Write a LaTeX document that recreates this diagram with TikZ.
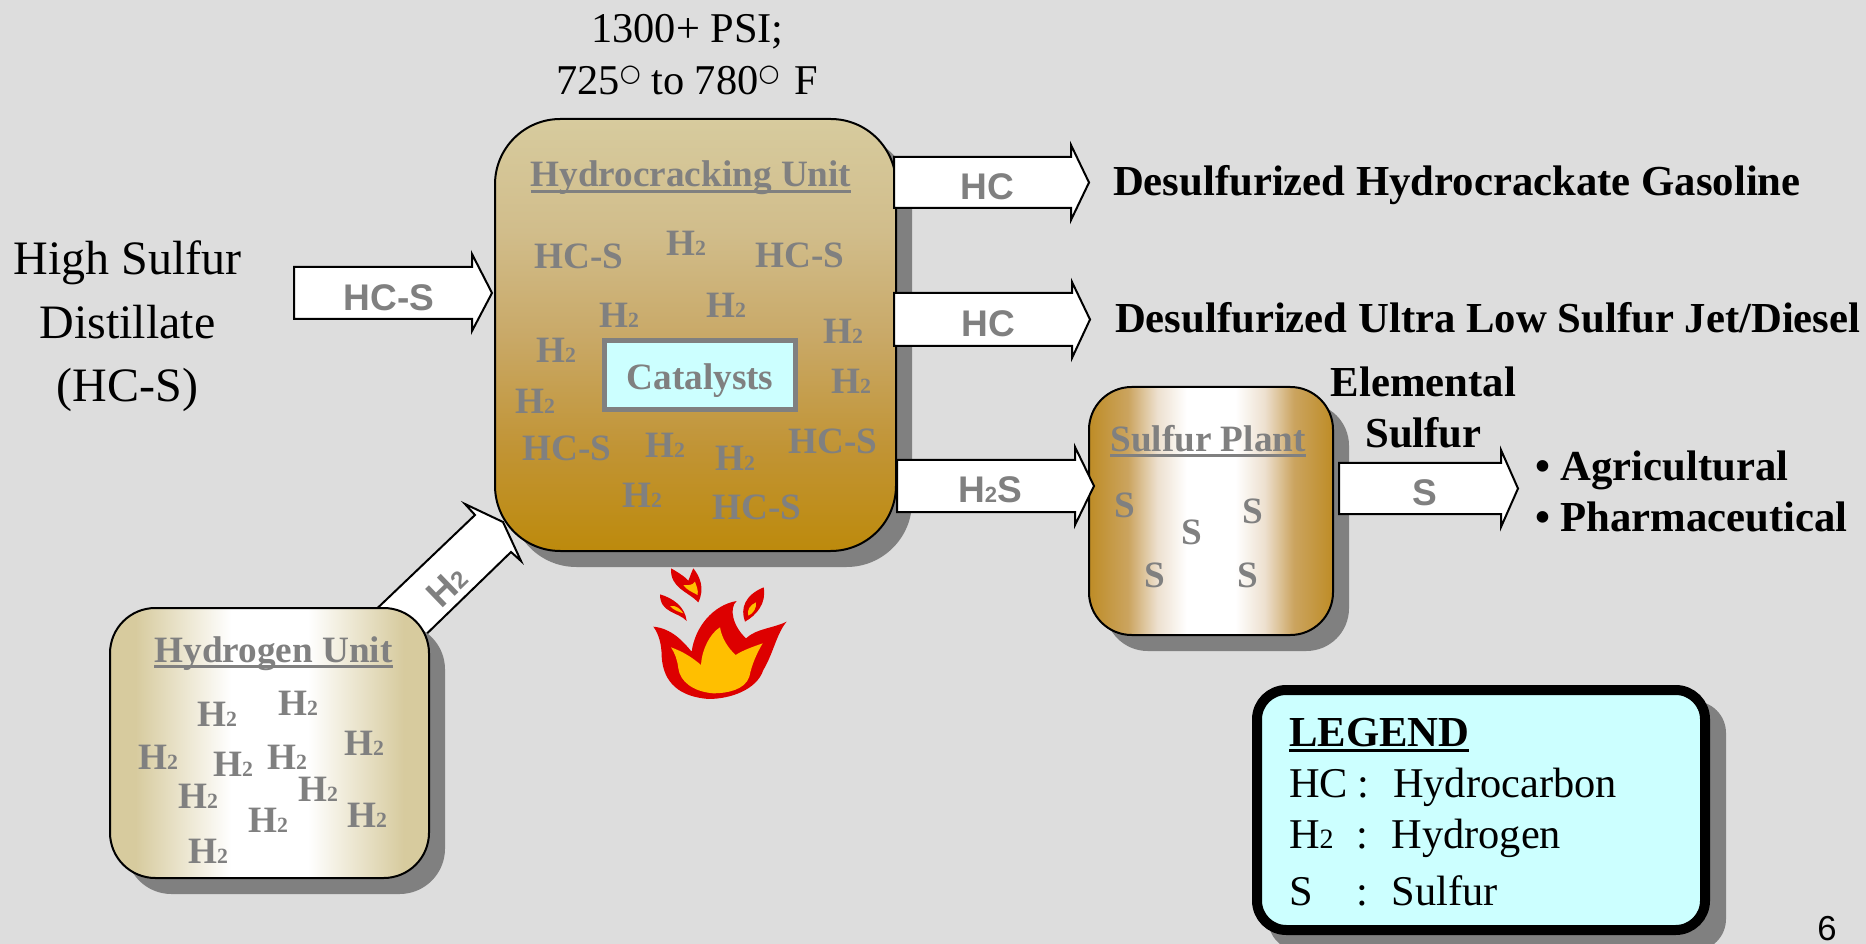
\documentclass[tikz,border=0pt]{standalone}
\usepackage{fontspec}
\setmainfont{Liberation Serif}
\setsansfont{Liberation Sans}
\newfontfamily\circfont{DejaVu Sans}
\definecolor{bgc}{HTML}{DDDDDD}
\definecolor{shc}{HTML}{808080}
\definecolor{tanc}{HTML}{D7CB9E}
\definecolor{tanm}{HTML}{D1BD8B}
\definecolor{tann}{HTML}{C9A968}
\definecolor{tano}{HTML}{C19435}
\definecolor{ochre}{HTML}{BD8A0C}
\definecolor{ochreb}{HTML}{BE8C26}
\definecolor{ochrec}{HTML}{CBA45F}
\definecolor{ochred}{HTML}{EDE0CF}
\definecolor{icec}{HTML}{CCFFFF}
\definecolor{flred}{HTML}{DD0000}
\definecolor{flyel}{HTML}{FFBF00}
\pgfdeclareverticalshading{mainfill}{100bp}{color(0bp)=(ochre); color(25bp)=(ochre); color(37bp)=(tano); color(50bp)=(tann); color(62bp)=(tanm); color(75bp)=(tanc); color(100bp)=(tanc)}
\pgfdeclarehorizontalshading{hydrofill}{100bp}{color(0bp)=(tanc); color(29bp)=(tanc); color(44bp)=(white); color(56bp)=(white); color(71bp)=(tanc); color(100bp)=(tanc)}
\pgfdeclarehorizontalshading{sulfill}{100bp}{color(0bp)=(ochreb); color(25bp)=(ochreb); color(33bp)=(ochrec); color(39bp)=(ochred); color(45bp)=(white); color(55bp)=(white); color(61bp)=(ochred); color(67bp)=(ochrec); color(75bp)=(ochreb); color(100bp)=(ochreb)}
\newcommand{\ulbox}[1]{\setbox0=\hbox{#1}\leavevmode\rlap{\vrule width\wd0 height -2.3pt depth 4.8pt}\box0}
\newcommand{\Htwo}{H{\fontsize{16.3}{17}\selectfont 2}}
\newcommand{\degc}{\raisebox{10pt}{\circfont\fontsize{18}{18}\selectfont ○}}
\tikzset{
  x=0.75pt,y=-0.75pt,
  base/.style={inner sep=0pt,outer sep=0pt,anchor=base},
  graylabel/.style={base,text=shc,font=\fontsize{27.9}{30}\selectfont\bfseries},
  arrowlabel/.style={base,text=shc,font=\fontsize{27.8}{30}\selectfont\sffamily\bfseries},
  blacklabel/.style={base,font=\fontsize{32.05}{36}\selectfont\bfseries},
  plainlabel/.style={base,font=\fontsize{31.8}{36}\selectfont},
  shadowbox/.style={fill=shc,draw=none,inner sep=0pt,outer sep=0pt},
  unitbox/.style={draw=black,line width=1.5pt,inner sep=0pt,outer sep=0pt},
  blockarrow/.style={draw=black,fill=white,line width=1.5pt,line join=miter},
}
\newcommand{\harrow}[7]{% x0,xhead,xtip,ytop,ybot,yheadtop,yheadbot
  \path[blockarrow] (#1,#4) -- (#2,#4) -- (#2,#6) -- (#3,{(#4+#5)/2}) -- (#2,#7) -- (#2,#5) -- (#1,#5) -- cycle;}
\begin{document}
\begin{tikzpicture}
\useasboundingbox (0,0) rectangle (1866,944);
\clip (0,0) rectangle (1866,944);
\fill[bgc] (0,0) rectangle (1866,944);

% Hydrocracking unit
\node[shadowbox,rounded corners=49pt,minimum width=300.75pt,minimum height=324pt] (mainsh) at (711.5,351) {};
\node[unitbox,rounded corners=49pt,minimum width=300.75pt,minimum height=324pt,shading=mainfill] (mainbox) at (695.5,335) {};
\node[graylabel] (maintitle) at (691,187) {\ulbox{Hydrocracking Unit}};
\foreach \px/\py [count=\i] in {579/269,800/268,567/460,833/454,757/519}
  \node[graylabel] (hcs\i) at (\px,\py) {HC-S};
\foreach \px/\py [count=\i] in {686/256,619/328,726/318,843/344,556/363,851/394,535/414,665/458,735/470,642/508}
  \node[graylabel] (ma\i) at (\px,\py) {\Htwo};
\node[draw=shc,fill=icec,line width=3.75pt,inner sep=0pt,outer sep=0pt,minimum width=143pt,minimum height=52pt] (catbox) at (700,375) {};
\node[graylabel] (cattext) at (700,390) {Catalysts};

% Sulfur plant
\node[shadowbox,rounded corners=32pt,minimum width=183pt,minimum height=186pt] (sulsh) at (1227,527) {};
\node[unitbox,rounded corners=32pt,minimum width=183pt,minimum height=186pt,shading=sulfill] (sulbox) at (1211,511) {};
\node[graylabel] (sultitle) at (1208,451) {\ulbox{Sulfur Plant}};
\foreach \px/\py [count=\i] in {1124.5/517,1191.5/544,1252.5/523,1154.5/587,1247.5/587}
  \node[graylabel] (sul\i) at (\px,\py) {S};

% Arrows
\harrow{294}{472}{492}{267}{319}{254}{331}
\harrow{894}{1071}{1089}{157}{208}{145}{220}
\harrow{894}{1072}{1090}{293}{346}{282}{358}
\harrow{897}{1075}{1094}{460}{512}{447}{525}
\harrow{1339}{1501}{1518}{463}{514}{450}{527}
\path[blockarrow] (365,620) -- (475,515) -- (465,504) -- (503,522) -- (521,561) -- (511,552) -- (410,650) -- cycle;

\node[arrowlabel] (arhcs) at (389,311) {HC-S};
\node[arrowlabel] (arhc1) at (987,200) {HC};
\node[arrowlabel] (arhc2) at (988,337) {HC};
\node[arrowlabel] (arh2s) at (990,503) {H{\fontsize{16.5}{17}\selectfont 2}S};
\node[arrowlabel] (ars) at (1425,505) {S};
\node[text=shc,font=\fontsize{27.8}{30}\selectfont\sffamily\bfseries,inner sep=0pt,rotate=44] (arh2) at (447,586) {H{\fontsize{18}{19}\selectfont 2}};

% Hydrogen unit
\node[shadowbox,rounded corners=34pt,minimum width=239.25pt,minimum height=202.5pt] (hyxsh) at (285.5,759) {};
\node[unitbox,rounded corners=34pt,minimum width=239.25pt,minimum height=202.5pt,shading=hydrofill] (hybox) at (269.5,743) {};
\node[graylabel] (hytitle) at (273.5,662) {\ulbox{Hydrogen Unit}};
\foreach \px/\py [count=\i] in {217/726,298/715,364/755,158/769,233/776,287/769,198/808,318/801,367/827,268/832,208/863}
  \node[graylabel] (hy\i) at (\px,\py) {\Htwo};

% Flame
\begin{scope}[shift={(620,550)},x=0.25pt,y=-0.25pt]
\fill[flred] (100,230) .. controls (155,235) and (190,275) .. (215,305)
  .. controls (225,230) and (280,165) .. (350,153)
  .. controls (325,175) and (340,230) .. (378,265)
  .. controls (410,235) and (460,235) .. (500,215)
  .. controls (470,250) and (460,310) .. (430,360)
  .. controls (410,420) and (330,447) .. (265,447)
  .. controls (180,440) and (130,400) .. (125,320)
  .. controls (125,280) and (115,250) .. (100,230) -- cycle;
\fill[flyel] (153,292) .. controls (190,305) and (220,325) .. (243,345)
  .. controls (245,300) and (270,250) .. (300,232)
  .. controls (305,265) and (325,295) .. (347,315)
  .. controls (370,300) and (400,290) .. (428,280)
  .. controls (410,310) and (395,345) .. (388,380)
  .. controls (375,420) and (320,430) .. (280,430)
  .. controls (220,425) and (180,395) .. (175,355)
  .. controls (172,330) and (165,310) .. (153,292) -- cycle;
\fill[flred] (153,55) .. controls (180,70) and (200,85) .. (205,92)
  .. controls (210,80) and (215,65) .. (220,55)
  .. controls (240,80) and (255,115) .. (235,157)
  .. controls (205,125) and (150,115) .. (153,55) -- cycle;
\fill[flyel] (190,105) .. controls (205,105) and (215,108) .. (225,95)
  .. controls (230,110) and (235,120) .. (233,135)
  .. controls (215,125) and (200,120) .. (190,105) -- cycle;
\fill[flred] (120,133) .. controls (160,145) and (195,170) .. (200,213)
  .. controls (175,185) and (120,190) .. (120,133) -- cycle;
\fill[flyel] (150,168) .. controls (170,165) and (182,178) .. (190,190)
  .. controls (175,185) and (160,180) .. (150,168) -- cycle;
\fill[flred] (431,112) .. controls (440,160) and (410,195) .. (375,215)
  .. controls (360,175) and (375,135) .. (431,112) -- cycle;
\fill[flyel] (408,157) .. controls (410,175) and (400,190) .. (385,197)
  .. controls (380,180) and (390,165) .. (408,157) -- cycle;
\end{scope}

% Legend
\node[shadowbox,rounded corners=24pt,minimum width=343.5pt,minimum height=187.5pt] (legsh) at (1497,826) {};
\node[draw=black,fill=icec,line width=7.5pt,rounded corners=22pt,inner sep=0pt,outer sep=0pt,minimum width=336pt,minimum height=180pt] (legbox) at (1481,810) {};
\node[blacklabel,anchor=base west] (legtitle) at (1289,746) {\ulbox{LEGEND}};
\node[plainlabel,anchor=base west] (leghc) at (1289,797) {HC};
\node[plainlabel] (legc1) at (1363,797) {:};
\node[plainlabel,anchor=base west] (leghcn) at (1393,797) {Hydrocarbon};
\node[plainlabel,anchor=base west] (legh2) at (1289,848) {H{\fontsize{21}{22}\selectfont 2}};
\node[plainlabel] (legc2) at (1362,848) {:};
\node[plainlabel,anchor=base west] (legh2n) at (1391.5,848) {Hydrogen};
\node[plainlabel,anchor=base west] (legs) at (1289,905) {S};
\node[plainlabel] (legc3) at (1362,905) {:};
\node[plainlabel,anchor=base west] (legsn) at (1391.5,905) {Sulfur};

% Free text
\node[plainlabel] (cond1) at (687.5,43) {1300+ PSI;};
\node[plainlabel] (cond2) at (687,95) {725\degc{} to 780\degc{}\hspace{11pt}F};
\node[plainlabel,font=\fontsize{36}{40}\selectfont] (feed1) at (127.5,275) {High Sulfur};
\node[plainlabel,font=\fontsize{36}{40}\selectfont] (feed2) at (127.5,339) {Distillate};
\node[plainlabel,font=\fontsize{36}{40}\selectfont] (feed3) at (127.5,402) {(HC-S)};
\node[blacklabel,anchor=base west] (prod1) at (1113,196) {Desulfurized Hydrocrackate Gasoline};
\node[blacklabel,anchor=base west] (prod2) at (1115,333) {Desulfurized Ultra Low Sulfur Jet/Diesel};
\node[blacklabel] (elem1) at (1423.5,397) {Elemental};
\node[blacklabel] (elem2) at (1423.5,448) {Sulfur};
\node[blacklabel,anchor=base west] (use1) at (1535,480) {• Agricultural};
\node[blacklabel,anchor=base west] (use2) at (1535,531) {• Pharmaceutical};
\node[base,font=\fontsize{26}{28}\selectfont\sffamily] (pageno) at (1827,940) {6};
\end{tikzpicture}
\end{document}
